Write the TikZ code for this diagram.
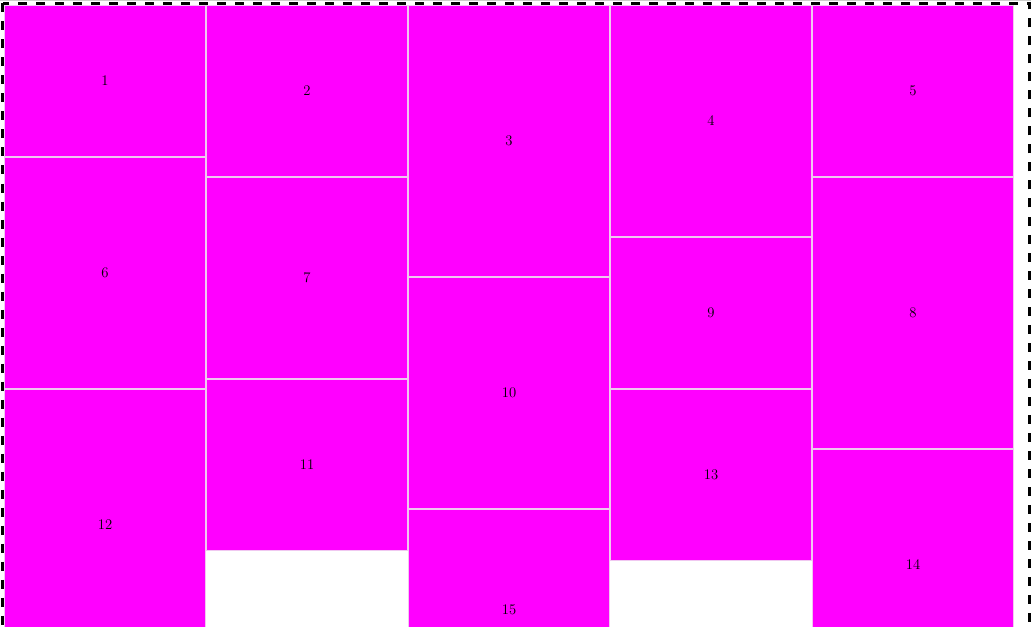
\documentclass[tikz,border=0pt]{standalone}
\usetikzlibrary{positioning}
\definecolor{tilefill}{RGB}{255,0,255}
\definecolor{tileedge}{RGB}{240,200,240}

\begin{document}
\begin{tikzpicture}[
    x=0.75pt, y=0.75pt,
    tile/.style={rectangle, draw=tileedge, fill=tilefill, line width=0.75pt, inner sep=0pt,
        minimum width=150.75pt, minimum height=#1*0.75pt, font=\fontsize{11}{13}\selectfont, text=black},
    frame/.style={draw=black, line width=2.25pt, dash pattern=on 6.75pt off 6.75pt}
]
    \useasboundingbox (0,0) rectangle (1031,626);
    \clip (0,0) rectangle (1031,626);

    % first column
    \node (t1) [tile=151, anchor=north west] at (4,621) {1};
    \node (t6) [tile=231, below=0pt of t1] {6};
    \node (t12) [tile=271, below=0pt of t6] {12};
    % second column
    \node (t2) [tile=171, anchor=north west] at (t1.north east) {2};
    \node (t7) [tile=201, below=0pt of t2] {7};
    \node (t11) [tile=171, below=0pt of t7] {11};
    % third column
    \node (t3) [tile=271, anchor=north west] at (t2.north east) {3};
    \node (t10) [tile=231, below=0pt of t3] {10};
    \node (t15) [tile=201, below=0pt of t10] {15};
    % fourth column
    \node (t4) [tile=231, anchor=north west] at (t3.north east) {4};
    \node (t9) [tile=151, below=0pt of t4] {9};
    \node (t13) [tile=171, below=0pt of t9] {13};
    % fifth column
    \node (t5) [tile=171, anchor=north west] at (t4.north east) {5};
    \node (t8) [tile=271, below=0pt of t5] {8};
    \node (t14) [tile=231, below=0pt of t8] {14};

    \draw [gray!40, line width=0.75pt] (0,625.5) -- (1031,625.5);
    \draw [frame] (2.5,622.5) rectangle (1029.5,-100);
\end{tikzpicture}
\end{document}
